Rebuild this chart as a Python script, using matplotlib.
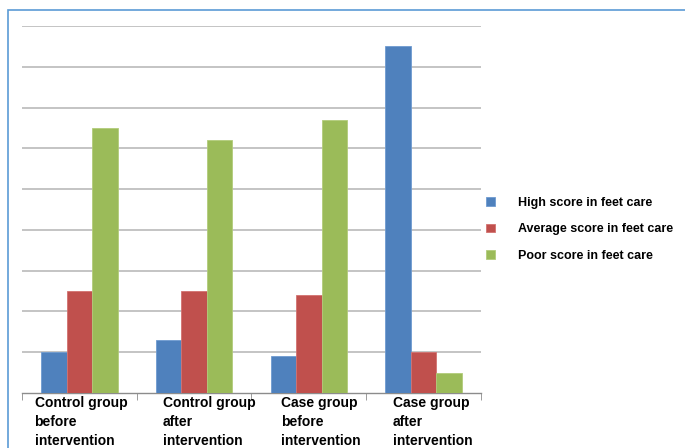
import numpy as np
import matplotlib.pyplot as plt
from matplotlib import transforms

# values (percent of each group)
groups = ['Control group\nbefore\nintervention',
          'Control group\nafter\nintervention',
          'Case group\nbefore\nintervention',
          'Case group\nafter\nintervention']
high_score = [10, 13, 9, 85]
average_score = [25, 25, 24, 10]
poor_score = [65, 62, 67, 5]
series_names = ['High score in feet care',
                'Average score in feet care',
                'Poor score in feet care']

colors = ['#4F81BD', '#C0504D', '#9BBB59']
edges = ['#6F9BD0', '#D27270', '#B2CC7A']
label_font = ['Liberation Sans', 'DejaVu Sans']
# where each category label starts, relative to the category centre
label_shift = [-0.39, -0.27, -0.24, -0.27]

fig = plt.figure(figsize=(6.85, 4.48), dpi=100)
ax = fig.add_axes([0.032, 0.1228, 0.67, 0.8193])

x = np.arange(len(groups))
w = 1 / 4.5
for k, vals in enumerate([high_score, average_score, poor_score]):
    ax.bar(x + (k - 1) * w, vals, width=w, color=colors[k],
           edgecolor=edges[k], linewidth=0.6, label=series_names[k], zorder=3)

ax.set_xlim(-0.5, len(groups) - 0.5)
ax.set_ylim(0, 90)
ax.set_yticks(np.arange(10, 91, 10))
ax.yaxis.grid(True, color='#C4C4C4', linewidth=1.4)
ax.tick_params(axis='y', length=0, labelleft=False)

for s in ['left', 'right', 'top']:
    ax.spines[s].set_visible(False)
ax.spines['bottom'].set_color('#8C8C8C')
ax.spines['bottom'].set_linewidth(1.0)

ax.set_xticks(x)
ax.set_xticklabels([])
ax.tick_params(axis='x', which='major', length=0)
ax.set_xticks(np.arange(len(groups) + 1) - 0.5, minor=True)
ax.tick_params(axis='x', which='minor', length=5, color='#8C8C8C', direction='out')

trans = transforms.blended_transform_factory(ax.transData, ax.transAxes)
for i, g in enumerate(groups):
    ax.text(i + label_shift[i], -0.008, g, transform=trans, ha='left', va='top',
            fontsize=10, fontweight='bold', family=label_font, linespacing=1.45)

fig.legend(loc='center left', bbox_to_anchor=(0.693, 0.488), frameon=False,
           handlelength=0.7, handleheight=0.7, handletextpad=1.9,
           labelspacing=1.15, prop={'family': label_font, 'weight': 'bold', 'size': 9})

# thin frame around the figure, as in the original
frame = plt.Rectangle((0.011, -0.02), 1.1, 0.998, transform=fig.transFigure,
                      fill=False, edgecolor='#5B9BD5', linewidth=1.2, clip_on=False)
fig.patches.append(frame)

fig.savefig('out.png', dpi=100)
